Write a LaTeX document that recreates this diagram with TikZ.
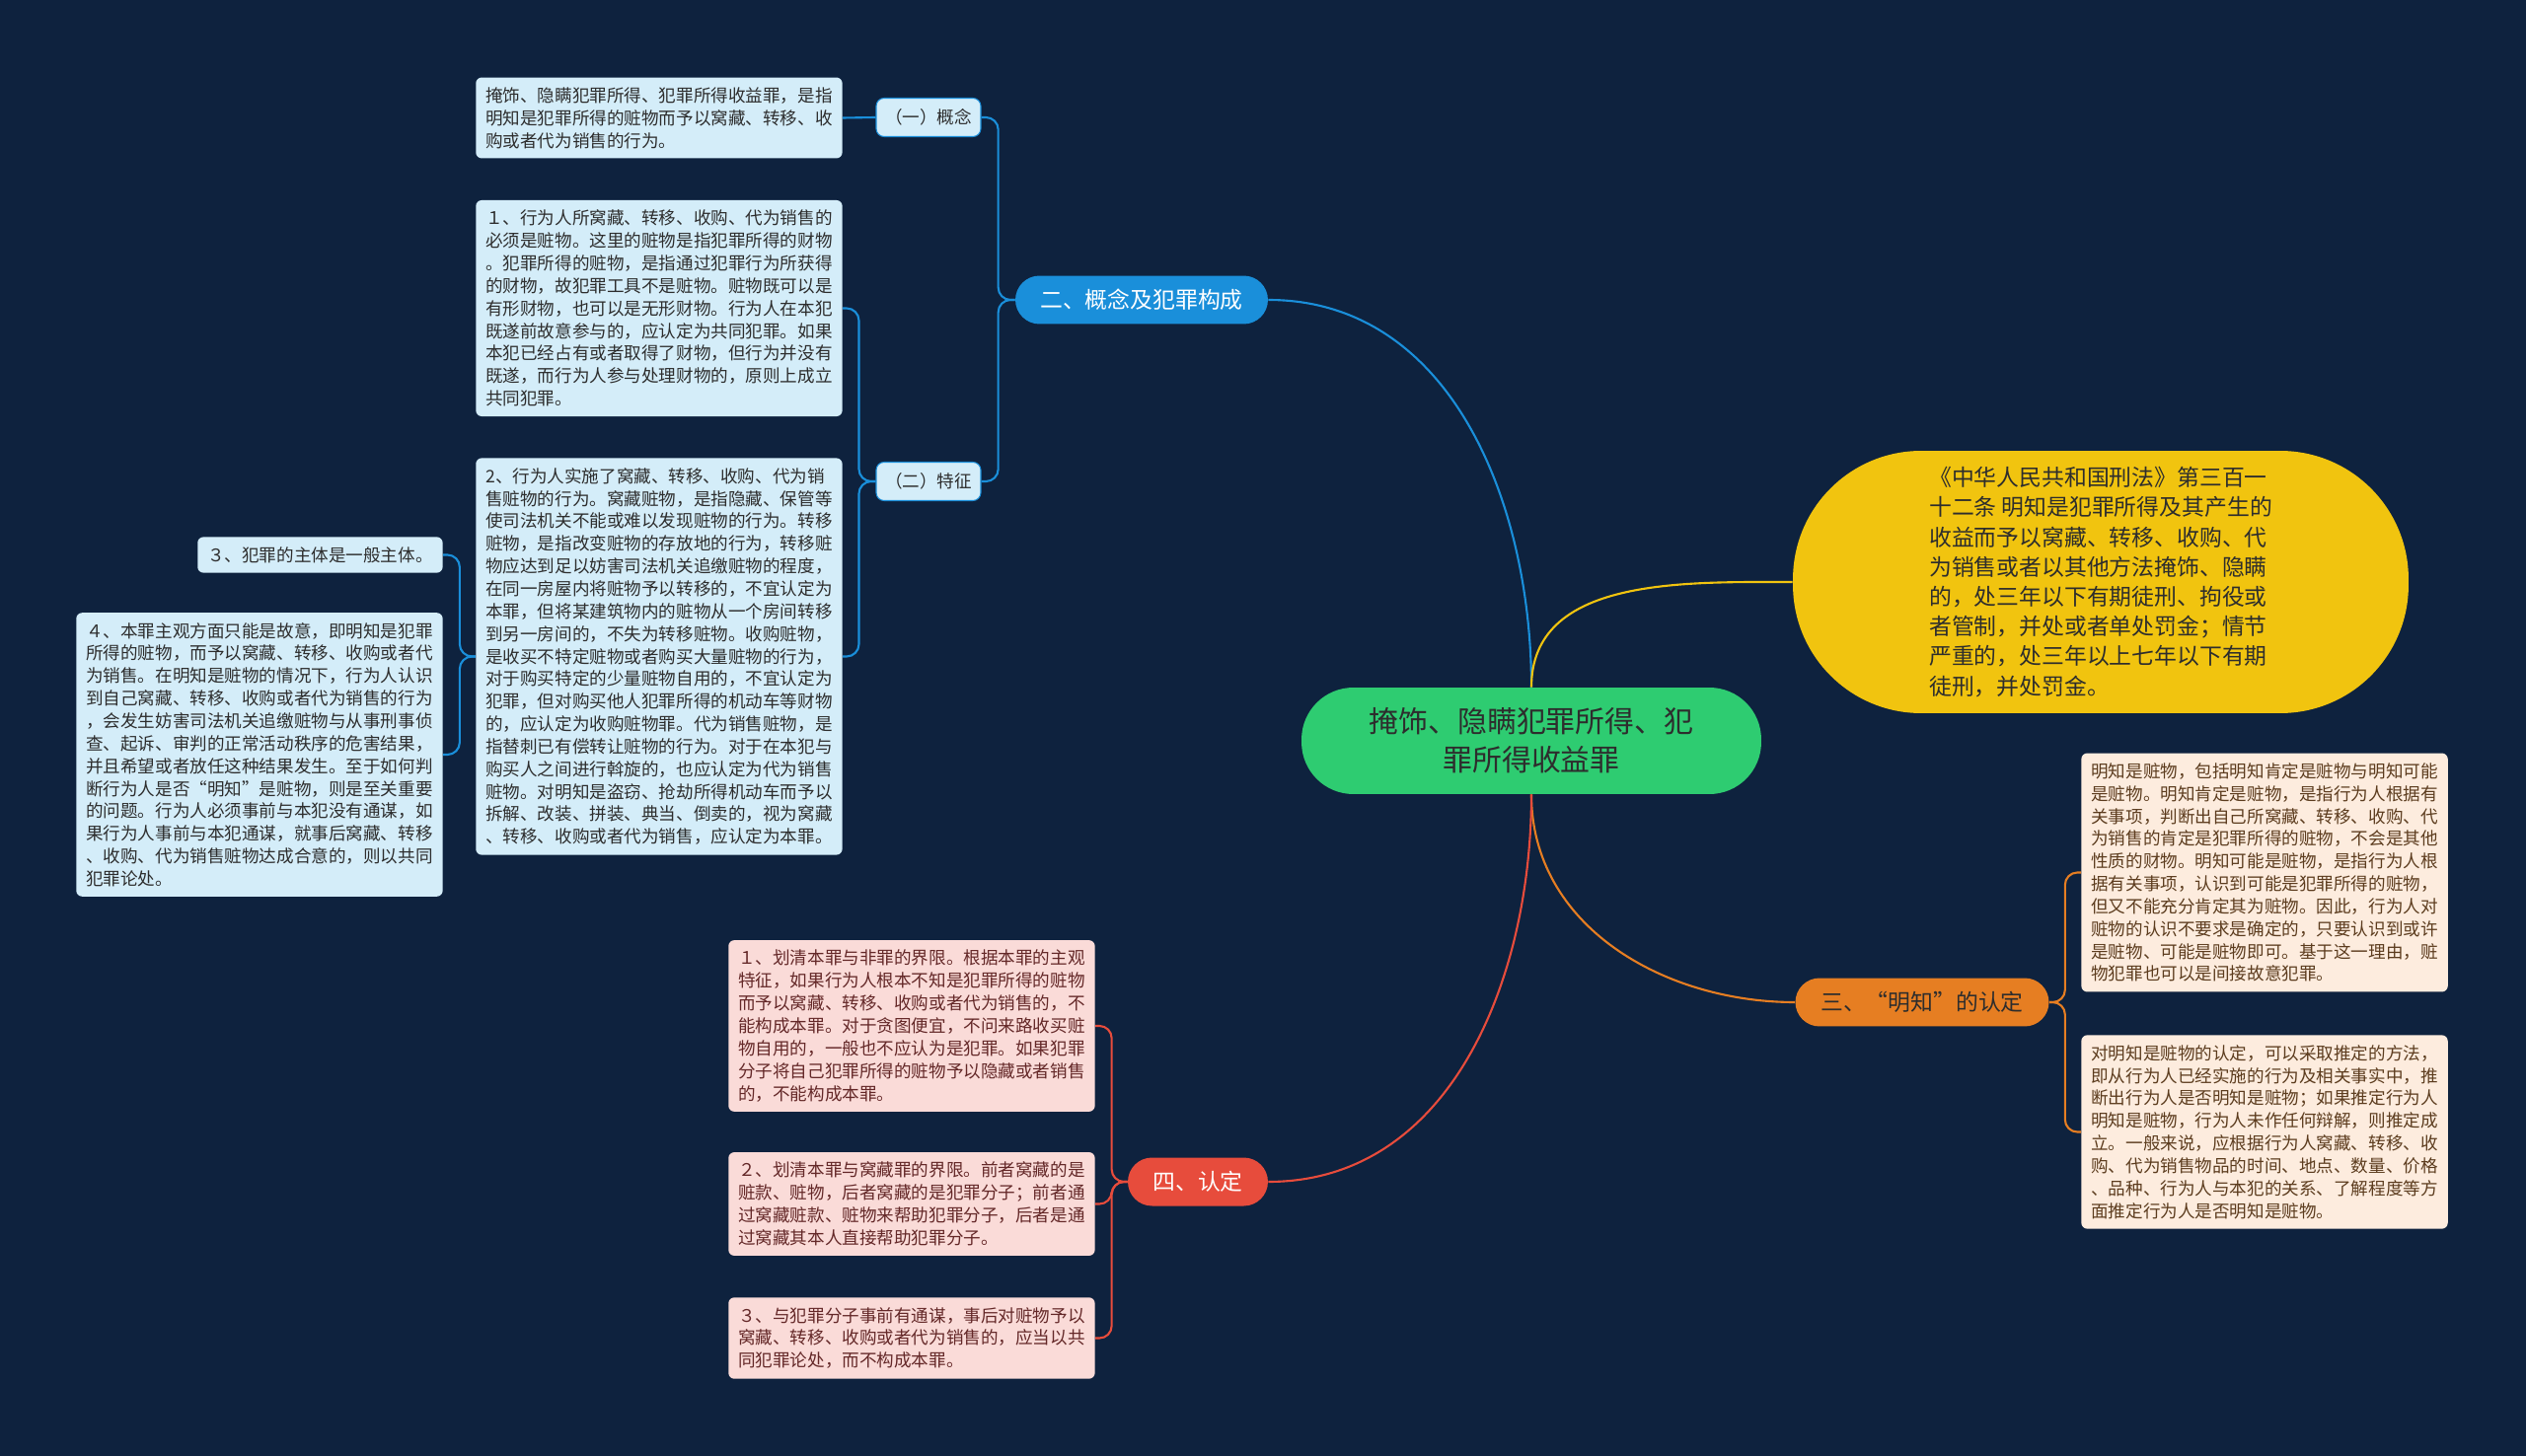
\documentclass[tikz,border=0pt]{standalone}
\usepackage{fontspec}
\usepackage{xcolor}
\usepackage{tikz}
\usetikzlibrary{positioning}
\newfontfamily\cjk{Noto Sans CJK SC}
\definecolor{MapNight}{RGB}{14,34,62}
\definecolor{RootGreen}{RGB}{46,204,113}
\definecolor{LawYellow}{RGB}{241,196,15}
\definecolor{BranchBlue}{RGB}{26,143,218}
\definecolor{BranchOrange}{RGB}{230,126,34}
\definecolor{BranchRed}{RGB}{231,76,60}
\definecolor{NoteBlue}{RGB}{212,237,249}
\definecolor{NotePeach}{RGB}{253,236,222}
\definecolor{NotePink}{RGB}{250,219,216}
\definecolor{InkDark}{RGB}{45,45,45}
\definecolor{InkBrown}{RGB}{92,60,30}
\definecolor{InkRed}{RGB}{100,40,40}

\begin{document}
\begin{tikzpicture}[x=0.02cm,y=-0.02cm,
  note/.style={font=\cjk\fontsize{10}{13}\selectfont,align=left,inner sep=0.2cm,rounded corners=0.12cm},
  bluenote/.style={note,fill=NoteBlue,text=InkDark},
  peachnote/.style={note,fill=NotePeach,text=InkBrown},
  pinknote/.style={note,fill=NotePink,text=InkRed},
  topic/.style={font=\cjk\fontsize{13}{16}\selectfont,minimum height=0.98cm,rounded corners=0.49cm},
  subtopic/.style={font=\cjk\fontsize{10}{13}\selectfont,fill=NoteBlue,draw=BranchBlue,line width=0.6pt,text=InkDark,minimum width=2.12cm,minimum height=0.78cm,rounded corners=0.16cm},
  link/.style={line width=1.2pt},
  bracket/.style={line width=1.2pt,rounded corners=0.25cm}]
  \fill[MapNight] (0,0) rectangle (2560,1476);
  \useasboundingbox (0,0) rectangle (2560,1476);

  % centre and first level
  \node[font=\cjk\fontsize{17}{22.2}\selectfont,align=center,fill=RootGreen,text=InkDark,minimum width=9.32cm,minimum height=2.16cm,rounded corners=1.05cm] (root) at (1552,751) {掩饰、隐瞒犯罪所得、犯\\罪所得收益罪};
  \node[font=\cjk\fontsize{13}{17.2}\selectfont,align=left,fill=LawYellow,text=InkDark,minimum width=12.48cm,minimum height=5.32cm,rounded corners=2.6cm] (law) at (2129,590) {《中华人民共和国刑法》第三百一\\十二条 明知是犯罪所得及其产生的\\收益而予以窝藏、转移、收购、代\\为销售或者以其他方法掩饰、隐瞒\\的，处三年以下有期徒刑、拘役或\\者管制，并处或者单处罚金；情节\\严重的，处三年以上七年以下有期\\徒刑，并处罚金。};
  \node[topic,fill=BranchBlue,text=white,minimum width=5.12cm] (concepts) at (1157,304) {二、概念及犯罪构成};
  \node[topic,fill=BranchOrange,text=InkDark,minimum width=5.14cm] (knowing) at (1948,1016) {三、“明知”的认定};
  \node[topic,fill=BranchRed,text=white,minimum width=2.84cm] (finding) at (1214,1198) {四、认定};

  % branch two
  \node[subtopic] (concept) at (941,119) {（一）概念};
  \node[subtopic] (traits) at (941,488) {（二）特征};
  \node[bluenote,anchor=east] (conceptText) at (854,119.5) {掩饰、隐瞒犯罪所得、犯罪所得收益罪，是指\\明知是犯罪所得的赃物而予以窝藏、转移、收\\购或者代为销售的行为。};
  \node[bluenote,anchor=east] (traitOne) at (854,312.5) {１、行为人所窝藏、转移、收购、代为销售的\\必须是赃物。这里的赃物是指犯罪所得的财物\\。犯罪所得的赃物，是指通过犯罪行为所获得\\的财物，故犯罪工具不是赃物。赃物既可以是\\有形财物，也可以是无形财物。行为人在本犯\\既遂前故意参与的，应认定为共同犯罪。如果\\本犯已经占有或者取得了财物，但行为并没有\\既遂，而行为人参与处理财物的，原则上成立\\共同犯罪。};
  \node[bluenote,anchor=east] (traitTwo) at (854,665.5) {2、行为人实施了窝藏、转移、收购、代为销\\售赃物的行为。窝藏赃物，是指隐藏、保管等\\使司法机关不能或难以发现赃物的行为。转移\\赃物，是指改变赃物的存放地的行为，转移赃\\物应达到足以妨害司法机关追缴赃物的程度，\\在同一房屋内将赃物予以转移的，不宜认定为\\本罪，但将某建筑物内的赃物从一个房间转移\\到另一房间的，不失为转移赃物。收购赃物，\\是收买不特定赃物或者购买大量赃物的行为，\\对于购买特定的少量赃物自用的，不宜认定为\\犯罪，但对购买他人犯罪所得的机动车等财物\\的，应认定为收购赃物罪。代为销售赃物，是\\指替刺已有偿转让赃物的行为。对于在本犯与\\购买人之间进行斡旋的，也应认定为代为销售\\赃物。对明知是盗窃、抢劫所得机动车而予以\\拆解、改装、拼装、典当、倒卖的，视为窝藏\\、转移、收购或者代为销售，应认定为本罪。};
  \node[bluenote,anchor=east] (traitThree) at (449,562.5) {３、犯罪的主体是一般主体。};
  \node[bluenote,anchor=east] (traitFour) at (449,765) {４、本罪主观方面只能是故意，即明知是犯罪\\所得的赃物，而予以窝藏、转移、收购或者代\\为销售。在明知是赃物的情况下，行为人认识\\到自己窝藏、转移、收购或者代为销售的行为\\，会发生妨害司法机关追缴赃物与从事刑事侦\\查、起诉、审判的正常活动秩序的危害结果，\\并且希望或者放任这种结果发生。至于如何判\\断行为人是否“明知”是赃物，则是至关重要\\的问题。行为人必须事前与本犯没有通谋，如\\果行为人事前与本犯通谋，就事后窝藏、转移\\、收购、代为销售赃物达成合意的，则以共同\\犯罪论处。};

  % branch three
  \node[peachnote,anchor=west] (knowOne) at (2109,884.5) {明知是赃物，包括明知肯定是赃物与明知可能\\是赃物。明知肯定是赃物，是指行为人根据有\\关事项，判断出自己所窝藏、转移、收购、代\\为销售的肯定是犯罪所得的赃物，不会是其他\\性质的财物。明知可能是赃物，是指行为人根\\据有关事项，认识到可能是犯罪所得的赃物，\\但又不能充分肯定其为赃物。因此，行为人对\\赃物的认识不要求是确定的，只要认识到或许\\是赃物、可能是赃物即可。基于这一理由，赃\\物犯罪也可以是间接故意犯罪。};
  \node[peachnote,anchor=west] (knowTwo) at (2109,1147.5) {对明知是赃物的认定，可以采取推定的方法，\\即从行为人已经实施的行为及相关事实中，推\\断出行为人是否明知是赃物；如果推定行为人\\明知是赃物，行为人未作任何辩解，则推定成\\立。一般来说，应根据行为人窝藏、转移、收\\购、代为销售物品的时间、地点、数量、价格\\、品种、行为人与本犯的关系、了解程度等方\\面推定行为人是否明知是赃物。};

  % branch four
  \node[pinknote,anchor=east] (findOne) at (1110,1040) {１、划清本罪与非罪的界限。根据本罪的主观\\特征，如果行为人根本不知是犯罪所得的赃物\\而予以窝藏、转移、收购或者代为销售的，不\\能构成本罪。对于贪图便宜，不问来路收买赃\\物自用的，一般也不应认为是犯罪。如果犯罪\\分子将自己犯罪所得的赃物予以隐藏或者销售\\的，不能构成本罪。};
  \node[pinknote,anchor=east] (findTwo) at (1110,1220.5) {２、划清本罪与窝藏罪的界限。前者窝藏的是\\赃款、赃物，后者窝藏的是犯罪分子；前者通\\过窝藏赃款、赃物来帮助犯罪分子，后者是通\\过窝藏其本人直接帮助犯罪分子。};
  \node[pinknote,anchor=east] (findThree) at (1110,1356.5) {３、与犯罪分子事前有通谋，事后对赃物予以\\窝藏、转移、收购或者代为销售的，应当以共\\同犯罪论处，而不构成本罪。};

  % connectors
  \draw[link,BranchBlue] (root.north) to[out=90,in=0] (concepts.east);
  \draw[link,LawYellow] (root.north) to[out=90,in=180] (law.west);
  \draw[link,BranchOrange] (root.south) to[out=-90,in=180] (knowing.west);
  \draw[link,BranchRed] (root.south) to[out=-90,in=0] (finding.east);
  \draw[bracket,BranchBlue] (concepts.west) -- ++(-17,0) |- (concept.east);
  \draw[bracket,BranchBlue] (concepts.west) -- ++(-17,0) |- (traits.east);
  \draw[bracket,BranchBlue] (concept.west) -- (conceptText.east);
  \draw[bracket,BranchBlue] (traits.west) -- ++(-17,0) |- (traitOne.east);
  \draw[bracket,BranchBlue] (traits.west) -- ++(-17,0) |- (traitTwo.east);
  \draw[bracket,BranchBlue] (traitTwo.west) -- ++(-16,0) |- (traitThree.east);
  \draw[bracket,BranchBlue] (traitTwo.west) -- ++(-16,0) |- (traitFour.east);
  \draw[bracket,BranchOrange] (knowing.east) -- ++(16,0) |- (knowOne.west);
  \draw[bracket,BranchOrange] (knowing.east) -- ++(16,0) |- (knowTwo.west);
  \draw[bracket,BranchRed] (finding.west) -- ++(-16,0) |- (findOne.east);
  \draw[bracket,BranchRed] (finding.west) -- ++(-16,0) |- (findTwo.east);
  \draw[bracket,BranchRed] (finding.west) -- ++(-16,0) |- (findThree.east);
\end{tikzpicture}
\end{document}
